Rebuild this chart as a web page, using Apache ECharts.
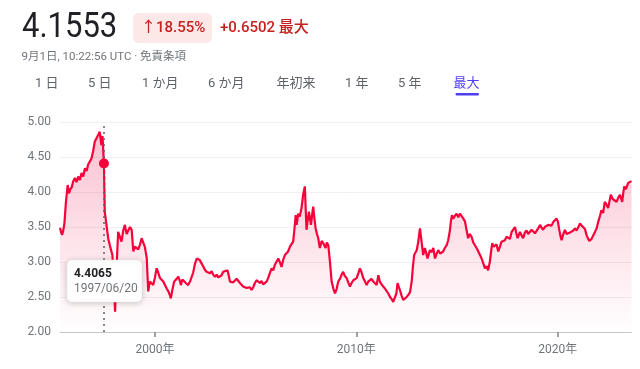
<!DOCTYPE html>
<html><head><meta charset="utf-8">
<script src="https://cdn.jsdelivr.net/npm/echarts@6/dist/echarts.min.js"></script>
<style>html,body{margin:0;padding:0;background:#fff}#c{width:640px;height:369px}</style>
</head><body><div id="c"></div>
<script>
const dates = ['1995-04-15','1995-05-05','1995-05-25','1995-06-15','1995-07-05','1995-08-01','1995-09-01','1995-09-25','1995-10-20','1995-11-15','1995-12-10',
'1996-01-10','1996-02-10','1996-03-10','1996-04-10','1996-05-10','1996-06-10','1996-07-10','1996-08-10','1996-09-05','1996-10-05','1996-11-05','1996-12-05',
'1997-01-05','1997-02-08','1997-03-05','1997-04-05','1997-05-05','1997-05-25','1997-06-20','1997-07-05','1997-08-05','1997-09-05','1997-10-05','1997-11-20','1997-12-15',
'1998-01-08','1998-02-05','1998-03-05','1998-04-05','1998-05-05','1998-06-05','1998-07-05','1998-08-05','1998-09-05','1998-10-05','1998-11-05','1998-12-05',
'1999-01-05','1999-02-05','1999-03-05','1999-04-05','1999-05-05','1999-06-01','1999-07-01','1999-08-05','1999-09-01','1999-10-01','1999-11-01','1999-12-01',
'2000-01-01','2000-02-01','2000-03-01','2000-04-01','2000-05-01','2000-06-01','2000-07-01','2000-08-01','2000-09-01','2000-10-01','2000-10-15','2000-11-12','2000-12-15',
'2001-01-15','2001-02-28','2001-04-01','2001-04-15','2001-05-12','2001-06-15','2001-07-15','2001-08-25','2001-09-28','2001-10-28','2001-11-25','2001-12-25',
'2002-01-28','2002-02-25','2002-03-25','2002-04-25','2002-05-25','2002-06-25','2002-07-25','2002-08-25','2002-09-25','2002-10-25','2002-11-22','2002-12-25',
'2003-01-25','2003-02-22','2003-03-22','2003-04-25','2003-05-22','2003-06-22','2003-08-10','2003-09-03','2003-09-22','2003-10-22','2003-11-22','2003-12-22',
'2004-01-22','2004-02-18','2004-03-22','2004-04-10','2004-05-18','2004-06-18','2004-07-22','2004-08-18','2004-09-18','2004-10-18','2004-11-18','2004-12-18',
'2005-01-18','2005-02-18','2005-03-18','2005-04-18','2005-05-15','2005-06-18','2005-07-18','2005-08-15','2005-09-15','2005-10-18','2005-11-15','2005-12-15',
'2006-01-15','2006-02-15','2006-03-15','2006-04-15','2006-05-15','2006-06-15','2006-07-15','2006-08-12','2006-09-15','2006-10-15','2006-11-12','2006-12-03','2006-12-28',
'2007-01-15','2007-02-12','2007-03-12','2007-04-12','2007-05-12','2007-06-12','2007-07-12','2007-08-03','2007-08-25','2007-10-01','2007-11-10','2007-12-03','2007-12-25',
'2008-01-18','2008-02-10','2008-03-10','2008-04-12','2008-05-10','2008-06-22','2008-07-15','2008-08-10','2008-09-10','2008-10-10','2008-11-10','2008-12-10',
'2009-01-10','2009-02-07','2009-03-10','2009-04-10','2009-05-07','2009-06-07','2009-07-10','2009-08-07','2009-09-07','2009-10-07','2009-11-07','2009-12-07',
'2010-01-07','2010-02-07','2010-03-07','2010-04-07','2010-05-07','2010-06-07','2010-07-07','2010-08-04','2010-09-04','2010-10-04','2010-11-04','2010-12-04',
'2011-01-04','2011-02-04','2011-03-04','2011-04-04','2011-05-04','2011-06-04','2011-07-04','2011-08-04','2011-09-04','2011-10-04','2011-11-01','2011-12-01','2011-12-28',
'2012-01-18','2012-02-12','2012-03-01','2012-04-01','2012-05-01','2012-06-01','2012-07-01','2012-08-01','2012-09-01','2012-10-01','2012-10-25','2012-11-15',
'2013-01-01','2013-01-28','2013-02-28','2013-04-01','2013-04-28','2013-05-28','2013-06-25','2013-07-15','2013-08-28','2013-09-28','2013-10-28','2013-11-28','2013-12-28',
'2014-01-25','2014-02-28','2014-03-28','2014-04-25','2014-05-25','2014-06-28','2014-07-25','2014-08-25','2014-09-12','2014-10-01','2014-10-25','2014-11-25','2014-12-25',
'2015-01-25','2015-02-25','2015-03-25','2015-04-25','2015-05-25','2015-06-25','2015-07-22','2015-08-22','2015-09-22','2015-10-22','2015-11-22','2015-12-22',
'2016-01-22','2016-02-22','2016-03-22','2016-04-22','2016-05-22','2016-06-22','2016-07-18','2016-08-18','2016-09-10','2016-10-01','2016-10-25','2016-11-18','2016-12-18',
'2017-01-18','2017-02-18','2017-03-18','2017-04-18','2017-05-18','2017-06-18','2017-07-18','2017-08-18','2017-09-18','2017-10-15','2017-11-18','2017-12-15',
'2018-01-05','2018-02-15','2018-03-18','2018-04-15','2018-05-15','2018-06-15','2018-07-15','2018-08-15','2018-09-15','2018-10-15','2018-11-15','2018-12-15',
'2019-01-12','2019-02-15','2019-03-15','2019-04-12','2019-05-12','2019-06-12','2019-07-12','2019-08-12','2019-09-12','2019-10-12','2019-11-12','2019-12-12',
'2020-01-05','2020-01-25','2020-02-18','2020-03-12','2020-04-12','2020-05-12','2020-06-12','2020-07-12','2020-08-10','2020-09-10','2020-10-10','2020-11-10','2020-12-10',
'2021-01-10','2021-02-10','2021-03-10','2021-04-10','2021-05-10','2021-06-10','2021-07-07','2021-07-28','2021-09-07','2021-10-07','2021-11-07','2021-12-07',
'2022-01-04','2022-02-07','2022-03-04','2022-04-04','2022-05-04','2022-06-04','2022-07-04','2022-08-01','2022-08-22','2022-09-25','2022-10-22','2022-12-04',
'2023-01-04','2023-02-04','2023-03-16','2023-04-04','2023-04-22','2023-05-22','2023-07-04','2023-09-01'];
const values = [3.49,3.42,3.39,3.46,3.56,3.86,4.10,3.98,4.04,4.07,4.15,
4.20,4.14,4.22,4.17,4.27,4.22,4.34,4.30,4.39,4.37,4.48,4.58,
4.72,4.70,4.81,4.86,4.67,4.80,4.4065,3.72,3.53,3.34,3.24,3.10,2.80,
2.29,2.95,3.43,3.45,3.29,3.45,3.53,3.40,3.39,3.50,3.46,3.15,
3.22,3.22,3.18,3.25,3.34,3.28,3.22,3.06,2.58,2.72,2.72,2.67,
2.78,2.91,2.85,2.77,2.78,2.72,2.70,2.62,2.58,2.52,2.48,2.60,2.72,
2.70,2.79,2.72,2.67,2.75,2.76,2.70,2.67,2.72,2.74,2.85,2.97,
3.05,3.06,3.03,2.98,2.94,2.89,2.86,2.85,2.84,2.87,2.82,2.79,
2.82,2.78,2.80,2.81,2.86,2.84,2.88,2.80,2.72,2.74,2.71,2.70,
2.76,2.77,2.70,2.72,2.65,2.67,2.63,2.62,2.64,2.60,2.64,2.70,
2.74,2.72,2.70,2.73,2.68,2.70,2.72,2.77,2.84,2.91,2.88,2.96,
2.98,3.05,3.00,2.93,3.03,3.10,3.08,3.15,3.22,3.24,3.29,3.45,3.67,
3.53,3.69,3.65,3.77,3.96,4.08,3.46,3.60,3.72,3.53,3.79,3.62,3.48,
3.40,3.34,3.20,3.30,3.27,3.20,3.28,3.24,3.00,2.72,2.62,2.55,
2.62,2.72,2.76,2.82,2.86,2.80,2.77,2.71,2.65,2.70,2.74,2.72,
2.77,2.84,2.91,2.85,2.77,2.72,2.67,2.72,2.70,2.76,2.72,2.70,
2.67,2.81,2.72,2.68,2.65,2.62,2.60,2.55,2.50,2.47,2.43,2.41,2.55,
2.70,2.64,2.60,2.52,2.46,2.48,2.50,2.53,2.57,2.72,2.95,3.10,
3.17,3.29,3.48,3.27,3.10,3.20,3.12,3.05,3.17,3.14,3.20,3.05,3.12,
3.17,3.12,3.10,3.15,3.20,3.24,3.31,3.45,3.58,3.67,3.62,3.66,3.69,
3.64,3.69,3.67,3.62,3.58,3.45,3.34,3.40,3.36,3.28,3.24,3.20,
3.15,3.10,3.05,2.98,2.91,2.94,2.88,3.00,3.15,3.27,3.22,3.20,3.25,
3.15,3.22,3.29,3.27,3.31,3.36,3.38,3.33,3.43,3.42,3.50,3.40,
3.34,3.43,3.38,3.34,3.42,3.45,3.40,3.41,3.46,3.45,3.41,3.43,
3.48,3.53,3.49,3.46,3.50,3.50,3.53,3.55,3.52,3.57,3.58,3.62,
3.58,3.48,3.38,3.31,3.40,3.46,3.40,3.38,3.42,3.43,3.45,3.48,3.45,
3.50,3.55,3.52,3.50,3.47,3.38,3.33,3.30,3.33,3.38,3.43,3.48,
3.57,3.66,3.74,3.70,3.86,3.82,3.77,3.88,3.96,3.90,3.91,3.86,
3.92,3.96,3.86,3.98,4.08,4.04,4.13,4.1553];
const xTickYears = [2000, 2010, 2020];
const yMin = 2, yMax = 5, yStep = 0.5;
const hoverDate = '1997-06-20';
const hoverValue = 4.4065;
const priceText = '4.1553';
const changePct = '↑18.55%';
const changeAbs = '+0.6502 最大';
const subText = '9月1日, 10:22:56 UTC · 免責条項';
const tabs = ['1 日','5 日','1 か月','6 か月','年初来','1 年','5 年','最大'];

const FONT = "Roboto, 'Noto Sans CJK JP', sans-serif";
const RED = '#f8003a';
const ts = d => Date.parse(d + 'T00:00:00Z');
const chart = echarts.init(document.getElementById('c'), null, {renderer:'canvas'});
const seriesData = dates.map((d,i)=>[ts(d), values[i]]);
const tickVals = xTickYears.map(y => Date.UTC(y,0,1));

chart.setOption({
  animation:false,
  grid:{left:60, right:8.5, top:122, bottom:37, containLabel:false},
  xAxis:{type:'value', min:ts(dates[0]), max:ts(dates[dates.length-1]),
    axisLine:{show:true, onZero:false, lineStyle:{color:'#c4c7c5', width:1}},
    axisTick:{show:true, customValues:tickVals, length:5, lineStyle:{color:'#80868b', width:1.5}},
    axisLabel:{customValues:tickVals, formatter:v=>new Date(v).getUTCFullYear()+'年', color:'#70757a', fontSize:12, fontFamily:FONT, margin:12},
    splitLine:{show:false}},
  yAxis:{type:'value', min:yMin, max:yMax, interval:yStep,
    axisLine:{show:false}, axisTick:{show:false},
    axisLabel:{formatter:v=>v.toFixed(2), color:'#70757a', fontSize:12, fontFamily:FONT, margin:9},
    splitLine:{lineStyle:{color:'#eef0f1', width:1}}},
  series:[{type:'line', data:seriesData, showSymbol:false, symbol:'none',
    lineStyle:{color:RED, width:2.2},
    areaStyle:{color:new echarts.graphic.LinearGradient(0,0,0,1,[{offset:0,color:'rgba(240,20,80,0.38)'},{offset:1,color:'rgba(240,20,80,0.0)'}])},
    markLine:{silent:true, symbol:'none', label:{show:false}, lineStyle:{type:[2,4], color:'#5f6368', width:1.5}, data:[{xAxis:ts(hoverDate)}]},
    markPoint:{symbol:'circle', symbolSize:10, itemStyle:{color:RED}, label:{show:false}, data:[{coord:[ts(hoverDate), hoverValue]}]},
    z:2}]
});

const p = chart.convertToPixel({xAxisIndex:0, yAxisIndex:0}, [ts(hoverDate), hoverValue]);
const bottomY = chart.convertToPixel({yAxisIndex:0}, yMin);
const tabX = [35, 88, 142, 208, 276.5, 345, 398, 453.5];
const g = [
  {type:'text', x:22, y:28, scaleX:0.885, style:{text:priceText, font:'400 35px '+FONT, fill:'#202124', verticalAlign:'middle'}},
  {type:'rect', shape:{x:133, y:13, width:79, height:30, r:6}, style:{fill:'#fce8e6'}},
  {type:'text', x:141, y:28, style:{text:changePct, font:'500 15px '+FONT, fill:'#c5221f', verticalAlign:'middle'}},
  {type:'text', x:220, y:28, style:{text:changeAbs, font:'500 15px '+FONT, fill:'#c5221f', verticalAlign:'middle'}},
  {type:'text', x:21.5, y:57.5, style:{text:subText, font:'400 11.5px '+FONT, fill:'#70757a', verticalAlign:'middle'}},
  {type:'rect', shape:{x:455.5, y:93, width:23.5, height:2.6, r:1.3}, style:{fill:'#4f3ff0'}},
  {type:'rect', shape:{x:p[0]-37, y:bottomY-72, width:75, height:42, r:5}, style:{fill:'#fff', shadowBlur:6, shadowColor:'rgba(0,0,0,0.22)', shadowOffsetY:1, stroke:'#e8eaed', lineWidth:0.5}, z:100},
  {type:'text', x:p[0]-30, y:bottomY-58, style:{text:hoverValue.toFixed(4), font:'bold 12px '+FONT, fill:'#202124', verticalAlign:'middle'}, z:101},
  {type:'text', x:p[0]-30, y:bottomY-43, style:{text:hoverDate.replace(/-/g,'/'), font:'400 12px '+FONT, fill:'#70757a', verticalAlign:'middle'}, z:101}
];
tabs.forEach((t,i)=>{
  g.push({type:'text', x:tabX[i], y:83.5, style:{text:t, font:'400 13px '+FONT, fill: i===tabs.length-1 ? '#4f3ff0' : '#5f6368', verticalAlign:'middle'}});
});
chart.setOption({graphic:g});
</script>
</body></html>
